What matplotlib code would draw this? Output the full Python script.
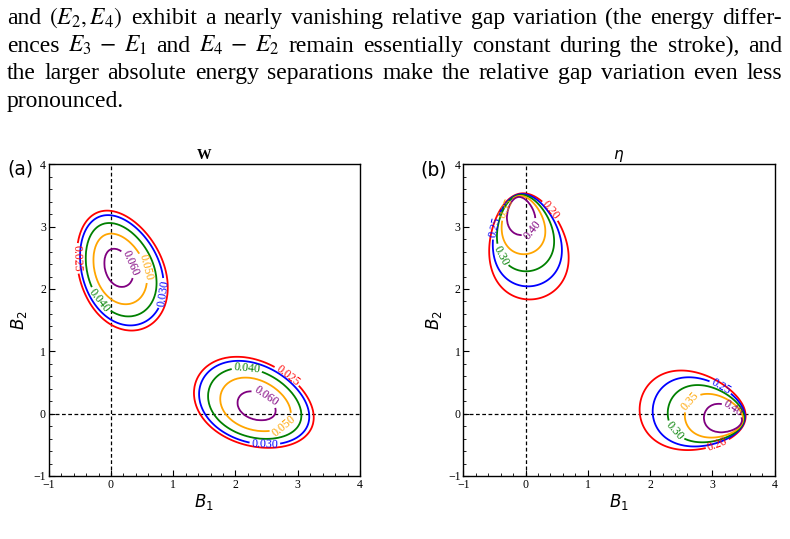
import numpy as np
import matplotlib
matplotlib.use("Agg")
import matplotlib.pyplot as plt

plt.rcParams['font.family'] = 'serif'
plt.rcParams['font.serif'] = ['Liberation Serif', 'DejaVu Serif']
plt.rcParams['mathtext.fontset'] = 'stix'

# ---------------- data ----------------
B_ticks = [-1, 0, 1, 2, 3, 4]

W_levels = [0.025, 0.030, 0.040, 0.050, 0.060]
W_scales = [1.00, 0.92, 0.78, 0.59, 0.32]           # relative size of each contour
W_peak = 0.066
W_shape = [0.16, 2.30, 1.00, 0.675, 112.0, -0.08]   # cx, cy, a, b, angle(deg), egg
W_focus = [0.10, 2.36]

eta_levels = [0.20, 0.25, 0.30, 0.35, 0.40]
eta_scales = [1.00, 0.87, 0.72, 0.55, 0.36]
eta_peak = 0.45
eta_shape = [0.035, 2.685, 0.855, 0.625, 97.7, -0.18]
eta_focus = [-0.14, 3.444]

level_colors = ['red', 'blue', 'green', 'orange', 'purple']

W_label_pos = [(0.025, (-0.58, 2.49)), (0.030, (0.84, 1.93)), (0.040, (-0.18, 1.82)),
               (0.050, (0.55, 2.34)), (0.060, (0.33, 2.42)),
               (0.040, (2.18, 0.67)), (0.025, (2.84, 0.62)), (0.060, (2.47, 0.25)),
               (0.050, (2.79, -0.21)), (0.030, (2.47, -0.52))]
eta_label_pos = [(0.20, (0.42, 3.27)), (0.25, (-0.50, 2.99)), (0.35, (-0.35, 3.30)),
                 (0.30, (-0.31, 2.58)), (0.40, (0.07, 2.98)),
                 (0.25, (3.15, 0.46)), (0.35, (2.64, 0.20)), (0.40, (3.36, 0.12)),
                 (0.30, (2.43, -0.25)), (0.20, (3.09, -0.51))]

para_lines = [
    ["and", "$(E_2, E_4)$", "exhibit", "a", "nearly", "vanishing", "relative", "gap",
     "variation", "(the", "energy", "differ-"],
    ["ences", r"$E_3\;-\;E_1$", "and", r"$E_4\;-\;E_2$", "remain", "essentially",
     "constant", "during", "the", "stroke),", "and"],
    ["the", "larger", "absolute", "energy", "separations", "make", "the", "relative",
     "gap", "variation", "even", "less"],
    ["pronounced."],
]

# ---------------- field model ----------------
def shape_rho(X, Y, p):
    cx, cy, a, b, ang, egg = p
    t = np.deg2rad(ang)
    dx, dy = X - cx, Y - cy
    u = dx * np.cos(t) + dy * np.sin(t)
    v = -dx * np.sin(t) + dy * np.cos(t)
    bb = b * np.clip(1 + egg * u / a, 0.3, None)
    return np.hypot(u / a, v / bb)


def lobe_scale(X, Y, p, H):
    hx, hy = H
    lo = np.full(X.shape, 1e-3)
    hi = np.full(X.shape, 6.0)
    for _ in range(40):
        mid = 0.5 * (lo + hi)
        r = shape_rho(hx + (X - hx) / mid, hy + (Y - hy) / mid, p)
        inside = r <= 1
        hi = np.where(inside, mid, hi)
        lo = np.where(inside, lo, mid)
    return hi


def field(X, Y, levels, scales, peak, shape, focus):
    xp = [0.0] + scales[::-1] + [1.5]
    fp = [peak] + levels[::-1] + [0.0]
    s1 = lobe_scale(X, Y, shape, focus)
    s2 = lobe_scale(Y, X, shape, focus)
    return np.maximum(np.interp(s1, xp, fp), np.interp(s2, xp, fp))


g = np.linspace(-1, 4, 401)
X, Y = np.meshgrid(g, g)

W_field = field(X, Y, W_levels, W_scales, W_peak, W_shape, W_focus)
eta_field = field(X, Y, eta_levels, eta_scales, eta_peak, eta_shape, eta_focus)

# ---------------- figure ----------------
fig = plt.figure(figsize=(7.9, 5.39), dpi=100)
FW, FH = 790.0, 539.0

ax_a = fig.add_axes([48.7 / FW, 63 / FH, 311.3 / FW, 311.7 / FH])
ax_b = fig.add_axes([463.3 / FW, 63 / FH, 311.3 / FW, 311.7 / FH])


def style_axes(ax):
    ax.set_xlim(-1, 4)
    ax.set_ylim(-1, 4)
    ax.set_xticks(B_ticks)
    ax.set_yticks(B_ticks)
    ax.set_xticks(np.arange(-1, 4.01, 0.2), minor=True)
    ax.set_yticks(np.arange(-1, 4.01, 0.2), minor=True)
    ax.tick_params(which='both', direction='in', top=False, right=False,
                   labelsize=8.5, pad=2)
    ax.tick_params(which='major', length=4, width=0.8)
    ax.tick_params(which='minor', length=2, width=0.6)
    for sp in ax.spines.values():
        sp.set_linewidth(1.0)
    ax.axvline(0, color='k', ls=(0, (3, 2)), lw=0.9, zorder=1)
    ax.axhline(0, color='k', ls=(0, (3, 2)), lw=0.9, zorder=1)
    ax.set_xlabel('$B_1$', fontsize=12, math_fontfamily='dejavusans', labelpad=1)
    ax.set_ylabel('$B_2$', fontsize=12, math_fontfamily='dejavusans', labelpad=3)


def draw_panel(ax, Z, levels, label_pos, fmt):
    style_axes(ax)
    for lev, col in zip(levels, level_colors):
        cs = ax.contour(X, Y, Z, levels=[lev], colors=[col], linewidths=1.3, zorder=2)
        pos = [p for l, p in label_pos if l == lev]
        if pos:
            ax.clabel(cs, manual=pos, inline=True, fontsize=8.5, fmt=fmt,
                      inline_spacing=2)


draw_panel(ax_a, W_field, W_levels, W_label_pos, '%.3f')
draw_panel(ax_b, eta_field, eta_levels, eta_label_pos, '%.2f')

ax_a.set_title('W', fontsize=10.5, fontweight='bold', pad=4)
ax_b.set_title(r'$\eta$', fontsize=11, math_fontfamily='dejavusans', pad=4)

fig.text(7 / FW, 1 - 174 / FH, '(a)', fontsize=13.5, family='DejaVu Sans',
         va='baseline')
fig.text(420 / FW, 1 - 176 / FH, '(b)', fontsize=13.5, family='DejaVu Sans',
         va='baseline')

# ---------------- justified paragraph ----------------
renderer = fig.canvas.get_renderer()
baselines = [24, 52, 79, 107]
x_left, x_right = 7.0, 782.0
fs = 17
for i, (tokens, base) in enumerate(zip(para_lines, baselines)):
    texts = [fig.text(0, 1 - base / FH, t, fontsize=fs, va='baseline', ha='left')
             for t in tokens]
    widths = [t.get_window_extent(renderer).width for t in texts]
    if i < len(para_lines) - 1 and len(texts) > 1:
        gap = (x_right - x_left - sum(widths)) / (len(texts) - 1)
    else:
        gap = fs * 0.25
    x = x_left
    for t, w in zip(texts, widths):
        t.set_x(x / FW)
        x += w + gap

fig.savefig('out.png', dpi=100)
